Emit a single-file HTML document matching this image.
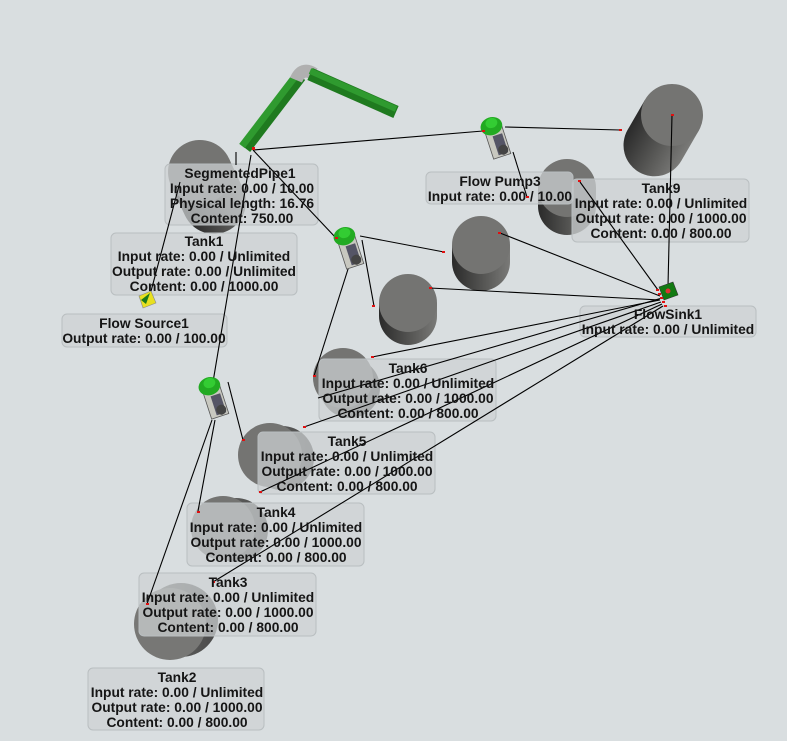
<!DOCTYPE html>
<html><head><meta charset="utf-8"><style>
html,body{margin:0;padding:0;background:#d9dee0;}
svg{display:block;}
.lb{fill:rgba(205,209,211,0.72);stroke:#b9bec0;stroke-width:1;}
text{font-family:"Liberation Sans",sans-serif;font-weight:bold;font-size:13.8px;fill:#151515;text-anchor:middle;}
.ln{stroke:#000;stroke-width:1.1;fill:none;}
.top{fill:#747472;}
</style></head><body>
<svg width="787" height="741" viewBox="0 0 787 741" xmlns="http://www.w3.org/2000/svg">
<defs>
<linearGradient id="side" x1="0" x2="1" y1="0" y2="0">
<stop offset="0" stop-color="#2a2a2a"/><stop offset="0.6" stop-color="#5a5a58"/><stop offset="1" stop-color="#7a7a78"/>
</linearGradient>
<linearGradient id="side2" x1="0" x2="1" y1="0" y2="0">
<stop offset="0" stop-color="#6a6a68"/><stop offset="1" stop-color="#4a4a4a"/>
</linearGradient>
</defs>

<g transform="rotate(30 672 115)">
<path d="M641 115 L641 150 A31 31 0 0 0 703 150 L703 115 Z" fill="url(#side)"/>
<circle cx="672" cy="115" r="31" class="top"/>
</g>
<path d="M538 188 L538 206 A29 29 0 0 0 596 206 L596 188 Z" fill="url(#side)"/>
<circle cx="567" cy="188" r="29" class="top"/>
<path d="M452 245 L452 262 A29 29 0 0 0 510 262 L510 245 Z" fill="url(#side)"/>
<circle cx="481" cy="245" r="29" class="top"/>
<path d="M379 303 L379 316 A29 29 0 0 0 437 316 L437 303 Z" fill="url(#side)"/>
<circle cx="408" cy="303" r="29" class="top"/>
<g transform="rotate(-25 200 172)">
<path d="M168 172 L168 205 A32 32 0 0 0 232 205 L232 172 Z" fill="url(#side)"/>
<circle cx="200" cy="172" r="32" class="top"/>
</g>
<circle cx="350" cy="388" r="30" fill="url(#side2)"/>
<circle cx="343" cy="378" r="30" class="top"/>
<circle cx="282" cy="458" r="32" fill="url(#side2)"/>
<circle cx="270" cy="455" r="32" class="top"/>
<circle cx="236" cy="530" r="32" fill="url(#side2)"/>
<circle cx="223" cy="528" r="32" class="top"/>
<circle cx="181" cy="620" r="37" fill="url(#side2)"/>
<circle cx="170" cy="624" r="36" fill="#777775"/>

<g stroke-linecap="butt">
<line x1="245" y1="148" x2="300" y2="76" stroke="#1f7a1f" stroke-width="13"/>
<line x1="242" y1="146" x2="297" y2="74" stroke="#2f9a2f" stroke-width="7"/>
<path d="M296 80 Q302 66 314 74" stroke="#b0b0b0" stroke-width="13" fill="none"/>
<line x1="310" y1="74" x2="396" y2="112" stroke="#1f7a1f" stroke-width="13"/>
<line x1="310" y1="71" x2="396" y2="109" stroke="#2f9a2f" stroke-width="6"/>
</g>

<rect class="lb" x="165" y="164" width="153" height="61" rx="5"/>
<rect class="lb" x="111" y="233" width="186" height="62" rx="5"/>
<rect class="lb" x="62" y="314" width="165" height="33" rx="5"/>
<rect class="lb" x="426" y="172" width="147" height="32" rx="5"/>
<rect class="lb" x="572" y="179" width="177" height="63" rx="5"/>
<rect class="lb" x="580" y="306" width="176" height="31" rx="5"/>
<rect class="lb" x="319" y="359" width="177" height="62" rx="5"/>
<rect class="lb" x="258" y="432" width="177" height="62" rx="5"/>
<rect class="lb" x="187" y="503" width="177" height="63" rx="5"/>
<rect class="lb" x="139" y="573" width="177" height="63" rx="5"/>
<rect class="lb" x="88" y="668" width="176" height="62" rx="5"/>

<g class="ln">
<line x1="253" y1="150" x2="483" y2="131"/>
<line x1="505" y1="127" x2="620" y2="130"/>
<line x1="513" y1="152" x2="527" y2="197"/>
<line x1="253" y1="150" x2="336" y2="238"/>
<line x1="360" y1="236" x2="444" y2="252"/>
<line x1="362" y1="240" x2="374" y2="306"/>
<line x1="349" y1="266" x2="314" y2="376"/>
<line x1="180" y1="182" x2="150" y2="295"/>
<line x1="236" y1="165" x2="236" y2="152"/>
<line x1="251" y1="155" x2="213" y2="382"/>
<line x1="228" y1="382" x2="243" y2="440"/>
<line x1="215" y1="420" x2="198" y2="511"/>
<line x1="212" y1="420" x2="147" y2="604"/>
<line x1="672" y1="115" x2="668" y2="286"/>
<line x1="580" y1="182" x2="658" y2="290"/>
<line x1="500" y1="233" x2="660" y2="296"/>
<line x1="430" y1="288" x2="660" y2="300"/>
<line x1="372" y1="357" x2="660" y2="300"/>
<line x1="304" y1="427" x2="661" y2="302"/>
<line x1="260" y1="492" x2="662" y2="304"/>
<line x1="213" y1="582" x2="663" y2="306"/>
<line x1="318" y1="398" x2="662" y2="298"/>
</g>

<g transform="translate(497,137) rotate(-18)">
<rect x="-10" y="-10" width="18" height="30" fill="#c8c8c0" stroke="#555" stroke-width="0.8"/>
<rect x="-4" y="-2" width="10" height="20" fill="#555566"/>
<circle cx="2" cy="14" r="5" fill="#444"/>
<ellipse cx="-2" cy="-12" rx="11" ry="9" fill="#22aa22"/>
<ellipse cx="-1" cy="-15" rx="6" ry="5" fill="#33cc33"/>
</g>
<g transform="translate(350,247) rotate(-18)">
<rect x="-10" y="-10" width="18" height="30" fill="#c8c8c0" stroke="#555" stroke-width="0.8"/>
<rect x="-4" y="-2" width="10" height="20" fill="#555566"/>
<circle cx="2" cy="14" r="5" fill="#444"/>
<ellipse cx="-2" cy="-12" rx="11" ry="9" fill="#22aa22"/>
<ellipse cx="-1" cy="-15" rx="6" ry="5" fill="#33cc33"/>
</g>
<g transform="translate(215,397) rotate(-18)">
<rect x="-10" y="-10" width="18" height="30" fill="#c8c8c0" stroke="#555" stroke-width="0.8"/>
<rect x="-4" y="-2" width="10" height="20" fill="#555566"/>
<circle cx="2" cy="14" r="5" fill="#444"/>
<ellipse cx="-2" cy="-12" rx="11" ry="9" fill="#22aa22"/>
<ellipse cx="-1" cy="-15" rx="6" ry="5" fill="#33cc33"/>
</g>
<polygon points="139,296 151,291 156,303 143,308" fill="#e8e020" stroke="#888" stroke-width="0.6"/>
<polygon points="141,300 150,293 146,304" fill="#1a7a1a"/>
<polygon points="659,287 673,282 678,295 664,300" fill="#127a12" stroke="#333" stroke-width="0.6"/>
<circle cx="668" cy="291" r="2.5" fill="#d33"/>
<g fill="#e01010">
<rect x="656" y="289" width="3" height="2"/><rect x="658" y="293" width="3" height="2"/><rect x="660" y="297" width="3" height="2"/><rect x="662" y="301" width="3" height="2"/><rect x="664" y="305" width="3" height="2"/>
<rect x="619" y="129" width="3" height="2"/><rect x="671" y="114" width="3" height="2"/><rect x="578" y="180" width="3" height="2"/><rect x="498" y="232" width="3" height="2"/><rect x="442" y="251" width="3" height="2"/><rect x="429" y="287" width="3" height="2"/><rect x="372" y="305" width="3" height="2"/><rect x="371" y="356" width="3" height="2"/><rect x="313" y="375" width="3" height="2"/><rect x="303" y="426" width="3" height="2"/><rect x="242" y="439" width="3" height="2"/><rect x="259" y="491" width="3" height="2"/><rect x="197" y="511" width="3" height="2"/><rect x="212" y="581" width="3" height="2"/><rect x="146" y="603" width="3" height="2"/><rect x="252" y="147" width="3" height="3"/><rect x="482" y="130" width="3" height="2"/><rect x="526" y="196" width="3" height="2"/><rect x="335" y="237" width="3" height="2"/>
</g>

<text x="240" y="178">SegmentedPipe1</text>
<text x="242" y="193">Input rate: 0.00 / 10.00</text>
<text x="242" y="208">Physical length: 16.76</text>
<text x="242" y="223">Content: 750.00</text>

<text x="204" y="246">Tank1</text>
<text x="204" y="261">Input rate: 0.00 / Unlimited</text>
<text x="204" y="276">Output rate: 0.00 / Unlimited</text>
<text x="204" y="291">Content: 0.00 / 1000.00</text>

<text x="144" y="328">Flow Source1</text>
<text x="144" y="343">Output rate: 0.00 / 100.00</text>

<text x="500" y="186">Flow Pump3</text>
<text x="500" y="201">Input rate: 0.00 / 10.00</text>

<text x="661" y="193">Tank9</text>
<text x="661" y="208">Input rate: 0.00 / Unlimited</text>
<text x="661" y="223">Output rate: 0.00 / 1000.00</text>
<text x="661" y="238">Content: 0.00 / 800.00</text>

<text x="668" y="319">FlowSink1</text>
<text x="668" y="334">Input rate: 0.00 / Unlimited</text>

<text x="408" y="373">Tank6</text>
<text x="408" y="388">Input rate: 0.00 / Unlimited</text>
<text x="408" y="403">Output rate: 0.00 / 1000.00</text>
<text x="408" y="418">Content: 0.00 / 800.00</text>

<text x="347" y="446">Tank5</text>
<text x="347" y="461">Input rate: 0.00 / Unlimited</text>
<text x="347" y="476">Output rate: 0.00 / 1000.00</text>
<text x="347" y="491">Content: 0.00 / 800.00</text>

<text x="276" y="517">Tank4</text>
<text x="276" y="532">Input rate: 0.00 / Unlimited</text>
<text x="276" y="547">Output rate: 0.00 / 1000.00</text>
<text x="276" y="562">Content: 0.00 / 800.00</text>

<text x="228" y="587">Tank3</text>
<text x="228" y="602">Input rate: 0.00 / Unlimited</text>
<text x="228" y="617">Output rate: 0.00 / 1000.00</text>
<text x="228" y="632">Content: 0.00 / 800.00</text>

<text x="177" y="682">Tank2</text>
<text x="177" y="697">Input rate: 0.00 / Unlimited</text>
<text x="177" y="712">Output rate: 0.00 / 1000.00</text>
<text x="177" y="727">Content: 0.00 / 800.00</text>
</svg>
</body></html>
